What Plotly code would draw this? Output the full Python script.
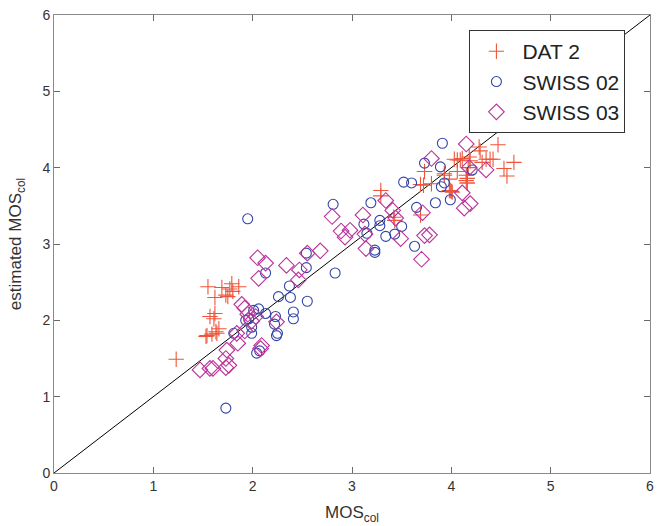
import plotly.graph_objects as go

dat2_x = [1.23,1.55,1.69,1.62,1.79,1.86,1.75,1.73,1.62,1.57,1.61,1.66,1.63,1.54,1.53,1.64,1.59,1.77,1.80,
          3.29,3.29,3.73,3.69,3.72,3.80,3.69,3.42,3.43,3.98,4.00,3.93,4.03,4.09,3.98,4.06,4.16,4.16,4.17,4.28,4.29,
          4.47,4.63,4.53,4.56,4.39,4.35,4.42,4.31,4.15,4.16,4.15,3.99,4.01,4.06,4.11,4.18,4.19,3.93]
dat2_y = [1.49,2.44,2.43,2.30,2.48,2.44,2.31,2.33,2.09,2.05,2.02,1.89,1.85,1.80,1.79,1.83,1.82,2.41,2.38,
          3.70,3.63,3.95,3.78,3.77,3.79,3.38,3.35,3.31,3.70,3.69,3.92,4.11,4.10,3.85,3.95,3.86,3.80,4.00,4.27,4.22,
          4.30,4.07,3.99,3.89,4.11,4.11,4.11,4.07,3.90,3.80,3.83,3.70,3.68,4.10,4.12,4.14,4.09,3.90]

swiss02_x = [1.95,1.73,2.81,2.83,2.54,2.54,2.13,2.37,2.38,2.26,2.55,2.41,2.41,2.23,2.22,2.25,2.24,2.13,2.06,2.01,
             1.96,1.99,1.99,1.81,2.04,2.07,1.93,
             3.91,3.73,3.89,3.52,3.60,3.90,3.93,4.21,3.84,3.99,3.65,3.63,3.19,3.28,3.28,3.12,3.15,3.34,3.43,3.50,3.23,3.23]
swiss02_y = [3.33,0.85,3.52,2.62,2.88,2.69,2.62,2.45,2.30,2.31,2.25,2.11,2.02,2.05,1.95,1.83,1.80,2.09,2.15,2.13,
             2.02,1.91,1.83,1.83,1.57,1.60,2.00,
             4.32,4.06,4.01,3.81,3.80,3.75,3.80,3.97,3.54,3.58,3.48,2.97,3.54,3.31,3.24,3.26,3.14,3.10,3.13,3.23,2.92,2.89]

swiss03_x = [2.80,2.68,2.55,2.34,2.47,2.46,2.05,2.13,2.06,1.89,1.92,1.95,2.03,1.99,2.24,1.84,1.85,1.92,2.09,2.08,
             1.74,1.73,1.76,1.73,1.47,1.57,1.60,
             4.15,3.80,3.34,3.11,3.41,3.71,2.89,2.98,2.93,3.13,3.14,3.49,3.44,3.73,3.78,3.70,4.13,4.19,4.11,4.35,4.18]
swiss03_y = [3.36,2.91,2.88,2.72,2.66,2.53,2.82,2.75,2.55,2.21,2.16,2.08,2.05,1.99,1.98,1.83,1.70,1.86,1.67,1.63,
             1.61,1.50,1.41,1.38,1.35,1.37,1.37,
             4.31,4.12,3.57,3.38,3.44,3.41,3.17,3.18,3.09,3.13,2.94,3.07,3.34,3.11,3.12,2.80,3.47,3.53,3.67,3.97,4.00]

diag = [0, 6]
ticks = [0, 1, 2, 3, 4, 5, 6]

fig = go.Figure()
fig.add_trace(go.Scatter(x=diag, y=diag, mode="lines", line=dict(color="black", width=1),
                         showlegend=False, hoverinfo="skip"))
fig.add_trace(go.Scatter(x=dat2_x, y=dat2_y, mode="markers", name="DAT 2",
                         marker=dict(symbol="cross-thin-open", size=11, line=dict(color="#ff0a0a", width=1.1))))
fig.add_trace(go.Scatter(x=swiss02_x, y=swiss02_y, mode="markers", name="SWISS 02",
                         marker=dict(symbol="circle-open", size=10, color="#3344a8", line=dict(width=1.1))))
fig.add_trace(go.Scatter(x=swiss03_x, y=swiss03_y, mode="markers", name="SWISS 03",
                         marker=dict(symbol="diamond-open", size=12, color="#bb3399", line=dict(width=1.1))))

axis_common = dict(range=[0, 6.0001], tickvals=ticks, showgrid=False, zeroline=False, showline=True,
                   linecolor="#8a8a8a", linewidth=1, mirror="ticks", ticks="inside", ticklen=6,
                   tickcolor="#6a6a6a", tickfont=dict(size=14, color="#333333"),
                   ticklabeloverflow="allow")

fig.update_layout(
    width=658, height=526,
    margin=dict(l=54, r=4, t=15, b=53),
    plot_bgcolor="white", paper_bgcolor="white",
    font=dict(family="Liberation Sans, Arial, sans-serif", color="#333333"),
    xaxis=dict(axis_common, title=dict(text="MOS<sub>col</sub>", font=dict(size=17), standoff=13)),
    yaxis=dict(axis_common, title=dict(text="estimated MOS<sub>col</sub>", font=dict(size=17), standoff=16)),
    legend=dict(x=0.697, y=0.967, xanchor="left", yanchor="top", bgcolor="white",
                bordercolor="#333333", borderwidth=1, font=dict(size=21, color="#222222"),
                itemwidth=42),
    showlegend=True,
)

fig.write_html("out.html", config={"displayModeBar": False},
               post_script="document.body.style.margin='0';document.body.style.overflow='hidden';")
